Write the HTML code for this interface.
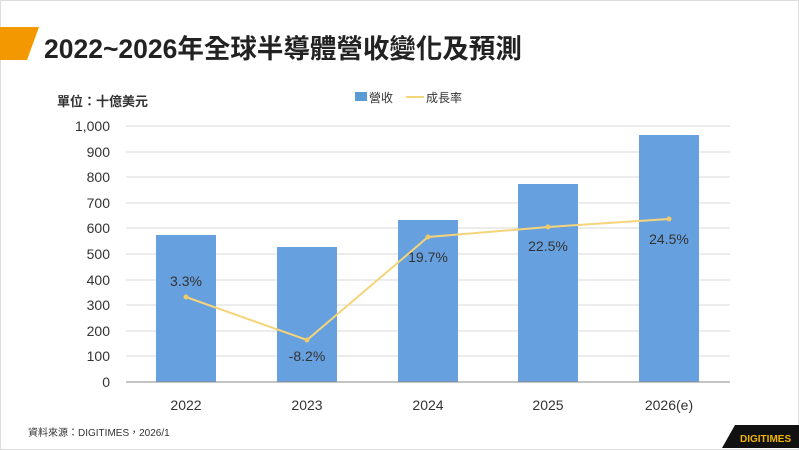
<!DOCTYPE html>
<html><head><meta charset="utf-8"><style>
body{margin:0;background:#fff;}
svg{display:block;font-family:"Liberation Sans","Noto Sans CJK TC",sans-serif;}
</style></head><body>
<svg width="799" height="450" viewBox="0 0 799 450">
<rect x="0.5" y="0.5" width="798" height="449" fill="#fff" stroke="#ddd"/>
<polygon points="0,27 39,27 27,60 0,60" fill="#f39800"/>
<text x="44" y="58" font-size="26.5" font-weight="bold" fill="#222">2022~2026年全球半導體營收變化及預測</text>
<text x="57" y="106" font-size="13" font-weight="bold" fill="#333">單位：十億美元</text>
<rect x="355" y="92" width="12" height="9" fill="#5b9bd5"/>
<text x="369" y="102" font-size="12" fill="#333">營收</text>
<line x1="406" y1="97" x2="424" y2="97" stroke="#f5d47a" stroke-width="2"/>
<text x="426" y="102" font-size="12" fill="#333">成長率</text>
<g stroke="#d9d9d9" stroke-width="1">
<line x1="126" y1="126" x2="730" y2="126"/><line x1="126" y1="152" x2="730" y2="152"/><line x1="126" y1="177" x2="730" y2="177"/><line x1="126" y1="203" x2="730" y2="203"/><line x1="126" y1="228" x2="730" y2="228"/><line x1="126" y1="254" x2="730" y2="254"/><line x1="126" y1="280" x2="730" y2="280"/><line x1="126" y1="305" x2="730" y2="305"/><line x1="126" y1="331" x2="730" y2="331"/><line x1="126" y1="356" x2="730" y2="356"/>
</g>
<g font-size="14" fill="#333" text-anchor="end">
<text x="110" y="131">1,000</text><text x="110" y="157">900</text><text x="110" y="182">800</text><text x="110" y="208">700</text><text x="110" y="233">600</text><text x="110" y="259">500</text><text x="110" y="285">400</text><text x="110" y="310">300</text><text x="110" y="336">200</text><text x="110" y="361">100</text><text x="110" y="387">0</text>
</g>
<g fill="#66a0de">
<rect x="156" y="235" width="60" height="147"/><rect x="277" y="247" width="60" height="135"/><rect x="398" y="220" width="60" height="162"/><rect x="518" y="184" width="60" height="198"/><rect x="639" y="135" width="60" height="247"/>
</g>
<line x1="126" y1="382" x2="730" y2="382" stroke="#888"/>
<polyline points="186,297 307,340 428,237 548,227 669,219" fill="none" stroke="#f5d47a" stroke-width="2"/>
<g fill="#f0c96a"><circle cx="186" cy="297" r="2.5"/><circle cx="307" cy="340" r="2.5"/><circle cx="428" cy="237" r="2.5"/><circle cx="548" cy="227" r="2.5"/><circle cx="669" cy="219" r="2.5"/></g>
<g font-size="14" fill="#333" text-anchor="middle">
<text x="186" y="286">3.3%</text><text x="307" y="361">-8.2%</text><text x="428" y="262">19.7%</text><text x="548" y="251">22.5%</text><text x="669" y="244">24.5%</text>
<text x="186" y="410">2022</text><text x="307" y="410">2023</text><text x="428" y="410">2024</text><text x="548" y="410">2025</text><text x="669" y="410">2026(e)</text>
</g>
<text x="28" y="436" font-size="10" fill="#333">資料來源：DIGITIMES，2026/1</text>
<polygon points="735,425 799,425 799,448 722,448" fill="#111"/>
<text x="740" y="442" font-size="10" font-weight="bold" fill="#f0b400">DIGITIMES</text>
</svg>
</body></html>
